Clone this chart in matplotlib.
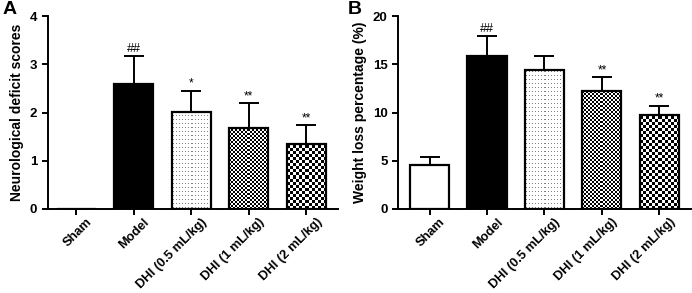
import numpy as np
import matplotlib
matplotlib.use("Agg")
import matplotlib.pyplot as plt
import matplotlib.transforms as mtransforms

plt.rcParams['font.family'] = ['Liberation Sans', 'DejaVu Sans']
plt.rcParams['font.weight'] = 'bold'

groups = ['Sham', 'Model', 'DHI (0.5 mL/kg)', 'DHI (1 mL/kg)', 'DHI (2 mL/kg)']

neuro_mean = [0.0, 2.60, 2.01, 1.68, 1.35]
neuro_err = [0.0, 0.58, 0.44, 0.51, 0.39]
neuro_sig = ['', '##', '*', '**', '**']

weight_mean = [4.56, 15.85, 14.37, 12.23, 9.71]
weight_err = [0.84, 2.05, 1.50, 1.42, 0.98]
weight_sig = ['', '##', '', '**', '**']

fills = ['white', 'black', 'dots', 'fine', 'checker']


def texture(kind, w, h):
    yy, xx = np.mgrid[0:h, 0:w]
    img = np.ones((h, w))
    if kind == 'dots':
        img[(yy % 4 == 1) & (xx % 3 == 1)] = 0.5
    elif kind == 'fine':
        img = (((xx // 2) + (yy // 2)) % 2).astype(float)
    elif kind == 'checker':
        img = (((xx // 3) + (yy // 3)) % 2).astype(float)
    return img


def panel(ax, means, errs, sigs, ylabel, ymax, ystep, xlim):
    x = np.arange(len(groups))
    ax.set_xlim(*xlim)
    ax.set_ylim(0, ymax)
    bars = ax.bar(x, means, width=0.68, color='white', edgecolor='black',
                  linewidth=1.6, zorder=3)
    for b, f in zip(bars, fills):
        if f == 'black':
            b.set_facecolor('black')
        elif f in ('dots', 'fine', 'checker') and b.get_height() > 0:
            b.set_facecolor('none')
            x0, y0 = b.get_x(), 0
            x1, y1 = x0 + b.get_width(), b.get_height()
            p0 = ax.transData.transform((x0, y0))
            p1 = ax.transData.transform((x1, y1))
            w = int(round(abs(p1[0] - p0[0])))
            h = int(round(abs(p1[1] - p0[1])))
            ax.imshow(texture(f, w, h), cmap='gray', vmin=0, vmax=1,
                      extent=(x0, x1, y0, y1), origin='lower',
                      interpolation='nearest', aspect='auto', zorder=2.5)
    ax.set_xlim(*xlim)
    ax.set_ylim(0, ymax)
    ax.errorbar(x, means, yerr=[np.zeros(len(x)), errs], fmt='none',
                ecolor='black', elinewidth=1.4, capsize=7, capthick=1.4,
                zorder=2)
    for xi, m, e, s in zip(x, means, errs, sigs):
        if s:
            fs = 9 if s == '##' else 8.5
            ax.text(xi, m + e + ymax * 0.005, s, ha='center', va='bottom',
                    fontsize=fs, fontweight='normal')
    ax.spines['top'].set_visible(False)
    ax.spines['right'].set_visible(False)
    ax.spines['left'].set_linewidth(1.4)
    ax.spines['bottom'].set_linewidth(1.4)
    ax.set_yticks(np.arange(0, ymax + 0.01, ystep))
    ax.set_xticks(x)
    ax.set_xticklabels(groups, rotation=45, ha='right', rotation_mode='anchor',
                       fontsize=9.3, fontweight='bold')
    ax.tick_params(axis='both', width=1.4, length=4)
    ax.tick_params(axis='x', pad=1)
    ax.tick_params(axis='y', labelsize=9.5)
    shift = mtransforms.ScaledTranslation(7 / 72, 0, ax.figure.dpi_scale_trans)
    for lab in ax.get_xticklabels():
        lab.set_transform(lab.get_transform() + shift)
    for lab in ax.get_yticklabels():
        lab.set_fontweight('bold')
    ax.set_ylabel(ylabel, fontsize=10, fontweight='bold', labelpad=4)


fig = plt.figure(figsize=(6.92, 2.93), dpi=100)
axA = fig.add_axes([0.069, 0.287, 0.419, 0.658])
axB = fig.add_axes([0.575, 0.287, 0.4236, 0.658])

panel(axA, neuro_mean, neuro_err, neuro_sig, 'Neurological deficit scores',
      4, 1, (-0.5, 4.55))
panel(axB, weight_mean, weight_err, weight_sig, 'Weight loss percentage (%)',
      20, 5, (-0.55, 4.55))

fig.text(0.003, 0.995, 'A', fontsize=14, fontweight='bold', va='top')
fig.text(0.503, 0.995, 'B', fontsize=14, fontweight='bold', va='top')

fig.savefig('out.png', dpi=100)
